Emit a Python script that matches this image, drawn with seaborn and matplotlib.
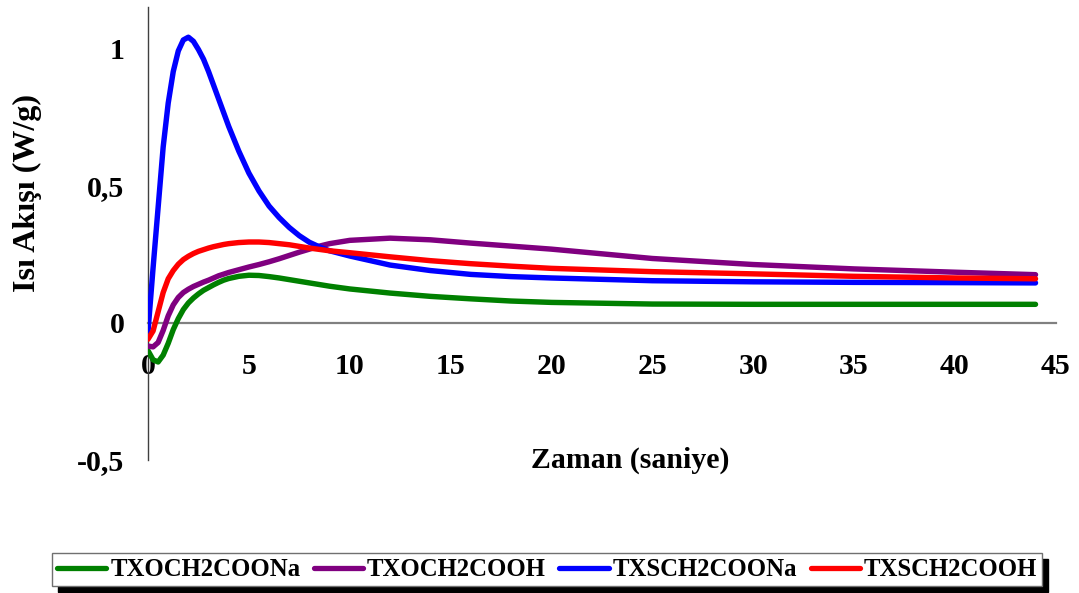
import matplotlib
matplotlib.use("Agg")
import matplotlib.pyplot as plt
from matplotlib.lines import Line2D
from matplotlib.ticker import FixedLocator, FixedFormatter
import pandas as pd
import seaborn as sns

# Time axis (seconds) shared by all samples
time_s = [0, 0.25, 0.5, 0.75, 1, 1.25, 1.5, 1.75, 2, 2.25, 2.5, 2.75, 3, 3.25,
          3.5, 3.75, 4, 4.5, 5, 5.5, 6, 6.5, 7, 7.5, 8, 8.5, 9, 10, 12, 14,
          16, 18, 20, 25, 30, 35, 40, 44]

# Heat flow (W/g) for each sample
txoch2coona = [-0.102, -0.135, -0.143, -0.118, -0.075, -0.025, 0.015, 0.048,
               0.072, 0.09, 0.105, 0.118, 0.128, 0.138, 0.147, 0.155, 0.161,
               0.169, 0.173, 0.172, 0.168, 0.163, 0.157, 0.151, 0.145, 0.139,
               0.133, 0.123, 0.108, 0.096, 0.087, 0.079, 0.074, 0.068, 0.067,
               0.067, 0.067, 0.067]
txoch2cooh = [-0.085, -0.088, -0.072, -0.028, 0.025, 0.065, 0.092, 0.11,
              0.122, 0.132, 0.14, 0.148, 0.155, 0.163, 0.171, 0.177, 0.183,
              0.193, 0.203, 0.212, 0.222, 0.233, 0.245, 0.257, 0.268, 0.279,
              0.288, 0.3, 0.308, 0.302, 0.29, 0.279, 0.268, 0.234, 0.212,
              0.196, 0.184, 0.175]
txsch2coona = [-0.03, 0.2, 0.42, 0.64, 0.8, 0.915, 0.99, 1.03, 1.04, 1.025,
               0.995, 0.96, 0.915, 0.865, 0.815, 0.765, 0.715, 0.625, 0.545,
               0.48, 0.425, 0.383, 0.347, 0.317, 0.293, 0.276, 0.262, 0.243,
               0.21, 0.19, 0.176, 0.168, 0.163, 0.153, 0.149, 0.147, 0.146,
               0.145]
txsch2cooh = [-0.06, -0.03, 0.04, 0.11, 0.16, 0.19, 0.213, 0.23, 0.242, 0.252,
              0.26, 0.266, 0.272, 0.277, 0.281, 0.285, 0.288, 0.292, 0.294,
              0.294, 0.292, 0.288, 0.284, 0.278, 0.272, 0.267, 0.262, 0.255,
              0.24, 0.226, 0.215, 0.206, 0.198, 0.186, 0.178, 0.169, 0.163,
              0.16]

series_names = ["TXOCH2COONa", "TXOCH2COOH", "TXSCH2COONa", "TXSCH2COOH"]
series_colors = ["#008000", "#800080", "#0000FF", "#FF0000"]

x_ticks = [0, 5, 10, 15, 20, 25, 30, 35, 40, 45]
y_ticks = [-0.5, 0, 0.5, 1]
y_tick_labels = ["-0,5", "0", "0,5", "1"]

df = pd.concat([
    pd.DataFrame({"Zaman": time_s, "Akis": vals, "Numune": name})
    for name, vals in zip(series_names,
                          [txoch2coona, txoch2cooh, txsch2coona, txsch2cooh])
], ignore_index=True)

sns.set_style("white")
plt.rcParams["font.family"] = ["Liberation Serif", "DejaVu Serif"]
plt.rcParams["font.weight"] = "bold"
plt.rcParams["text.color"] = "black"
plt.rcParams["xtick.labelcolor"] = "black"
plt.rcParams["ytick.labelcolor"] = "black"

fig = plt.figure(figsize=(10.79, 5.93), dpi=100)
ax = fig.add_axes([0.1372, 0.2243, 0.8412, 0.7639])

palette = dict(zip(series_names, series_colors))
sns.lineplot(data=df, x="Zaman", y="Akis", hue="Numune", hue_order=series_names,
             palette=palette, linewidth=3.9, legend=False, ax=ax,
             solid_capstyle="round", solid_joinstyle="round", zorder=3)

ax.set_xlim(0, 45)
ax.set_ylim(-0.5, 1.15)
ax.xaxis.set_major_locator(FixedLocator(x_ticks))
ax.yaxis.set_major_locator(FixedLocator(y_ticks))
ax.yaxis.set_major_formatter(FixedFormatter(y_tick_labels))

for side in ("top", "right"):
    ax.spines[side].set_visible(False)
ax.spines["bottom"].set_position(("data", 0))
ax.spines["bottom"].set_color("#808080")
ax.spines["bottom"].set_linewidth(1.6)
ax.spines["left"].set_color("#404040")
ax.spines["left"].set_linewidth(1.0)

ax.tick_params(axis="x", direction="out", length=6.5, width=1.3,
               color="#808080", pad=15, labelsize=21.5, labelcolor="black")
ax.tick_params(axis="y", direction="out", length=7, width=1.0,
               color="#404040", pad=10, labelsize=21.5, labelcolor="black")
for lab in ax.get_xticklabels() + ax.get_yticklabels():
    lab.set_fontweight("bold")

ax.set_xlabel("")
ax.set_ylabel("")
fig.text(630 / 1079, 1 - 460 / 593, "Zaman (saniye)", ha="center", va="center",
         fontsize=21.5, fontweight="bold", color="black")
fig.text(27 / 1079, 1 - 193 / 593, "Isı Akışı (W/g)", ha="center", va="center",
         rotation=90, fontsize=23, fontweight="bold", color="black")

handles = [Line2D([0], [0], color=c, linewidth=3.8, solid_capstyle="round")
           for c in series_colors]
leg = fig.legend(handles, series_names, loc="center",
                 bbox_to_anchor=(0.507, 0.039), bbox_transform=fig.transFigure,
                 ncol=4, fontsize=17.8, frameon=True, fancybox=False,
                 handlelength=2.0, handletextpad=0.15, columnspacing=0.55,
                 borderpad=0.2, borderaxespad=0,
                 shadow={"ox": 4, "oy": -4, "color": "black", "alpha": 1})
leg.get_frame().set_edgecolor("#707070")
leg.get_frame().set_linewidth(1.0)
for t in leg.get_texts():
    t.set_fontweight("bold")
    t.set_color("black")

fig.savefig("out.png", dpi=100)
